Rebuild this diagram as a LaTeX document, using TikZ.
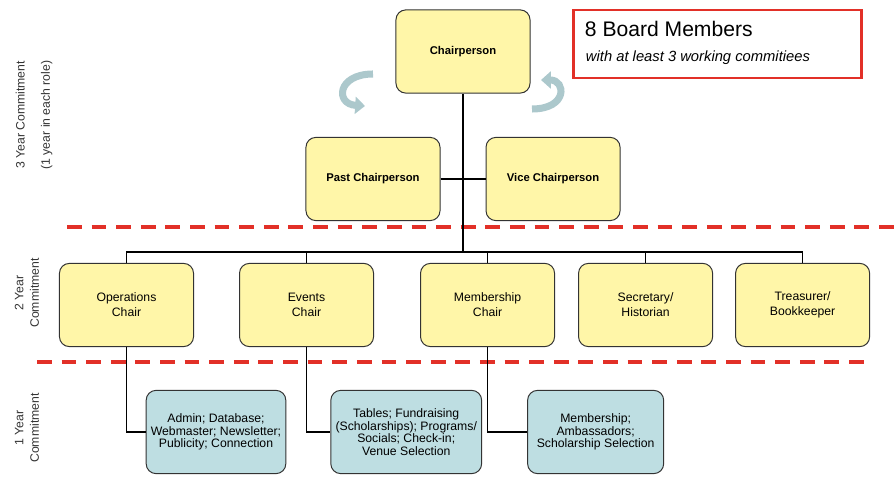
\documentclass[tikz,border=0pt]{standalone}
\usepackage{fontspec}
\setmainfont{Liberation Sans}
\usetikzlibrary{arrows.meta}
\usetikzlibrary{positioning}

\definecolor{roleyellow}{RGB}{255,246,168}
\definecolor{teamblue}{RGB}{190,222,226}
\definecolor{splitred}{RGB}{226,48,40}
\definecolor{turngrey}{RGB}{172,200,204}

\begin{document}
\begin{tikzpicture}[x=0.025cm, y=-0.025cm,
    role/.style={draw=black!80, fill=roleyellow, rounded corners=7pt, line width=0.7pt,
        minimum width=3.35cm, minimum height=2.08cm, align=center,
        font=\fontsize{8.7}{10.5}\selectfont},
    chairbox/.style={role, font=\bfseries\fontsize{8}{10}\selectfont},
    team/.style={role, fill=teamblue, minimum width=3.4cm, font=\fontsize{8.7}{9}\selectfont},
    link/.style={line width=1.1pt},
    divider/.style={splitred, line width=2.8pt, dash pattern=on 10.5pt off 7pt},
    turnarrow/.style={turngrey, line width=5pt, -{Triangle[width=12pt,length=7pt]}},
    yearlabel/.style={rotate=90, align=center, text=black!80, font=\fontsize{8.7}{11}\selectfont}]
        \useasboundingbox (0,0) rectangle (895,484);

        \node[chairbox] (chair) at (463,51.5) {Chairperson};
        \node[chairbox] (past) at (373,179) {Past Chairperson};
        \node[chairbox, right=1.125cm of past] (vice) {Vice Chairperson};

        \node[role] (ops) at (126.5,305) {Operations\\Chair};
        \node[role, right=1.125cm of ops] (events) {Events\\Chair};
        \node[role, right=1.15cm of events] (member) {Membership\\Chair};
        \node[role, right=0.575cm of member] (sec) {Secretary/\\Historian};
        \node[role, right=0.55cm of sec] (treas) {Treasurer/\\Bookkeeper};

        \node[team] (opsteam) at (216,432) {Admin; Database;\\Webmaster; Newsletter;\\Publicity; Connection};
        \node[team, right=1.1cm of opsteam] (eventsteam) {Tables; Fundraising\\(Scholarships); Programs/\\Socials; Check-in;\\Venue Selection};
        \node[team, right=1.125cm of eventsteam] (memberteam) {Membership;\\Ambassadors;\\Scholarship Selection};

        % board note
        \node[draw=splitred, line width=1.6pt, minimum width=7.2cm, minimum height=1.7cm] (note) at (717.5,44) {};
        \node[anchor=west, font=\fontsize{15}{18}\selectfont] (notetitle) at (580,29) {8 Board Members};
        \node[anchor=west, font=\itshape\fontsize{10.5}{12}\selectfont] (notesub) at (581,58) {with at least 3 working commitiees};

        \node[yearlabel] (threeyr) at (34,115) {3 Year Commitment\\[7pt](1 year in each role)};
        \node[yearlabel] (twoyr) at (27,293) {2 Year\\Commitment};
        \node[yearlabel] (oneyr) at (27,428) {1 Year\\Commitment};

        \draw[divider] (67,227) -- (895,227);
        \draw[divider] (37,362) -- (866,362);

        \coordinate (hub) at (463,252);
        \draw[link] (chair) -- (hub);
        \draw[link, line width=1.6pt] (past) -- (vice);
        \draw[link] (ops.north) |- (hub) -| (treas.north);
        \draw[link] (events.north) -- (events.north |- hub);
        \draw[link] (member.north) -- (member.north |- hub);
        \draw[link] (sec.north) -- (sec.north |- hub);

        \draw[link] (ops.south) |- (opsteam.west);
        \draw[link] (events.south) |- (eventsteam.west);
        \draw[link] (member.south) |- (memberteam.west);

        \draw[turnarrow] (373,74) .. controls (337,74) and (335,104) .. (365,106);
        \draw[turnarrow] (532,109) .. controls (568,109) and (566,80) .. (541,80);
    \end{tikzpicture}
\end{document}
